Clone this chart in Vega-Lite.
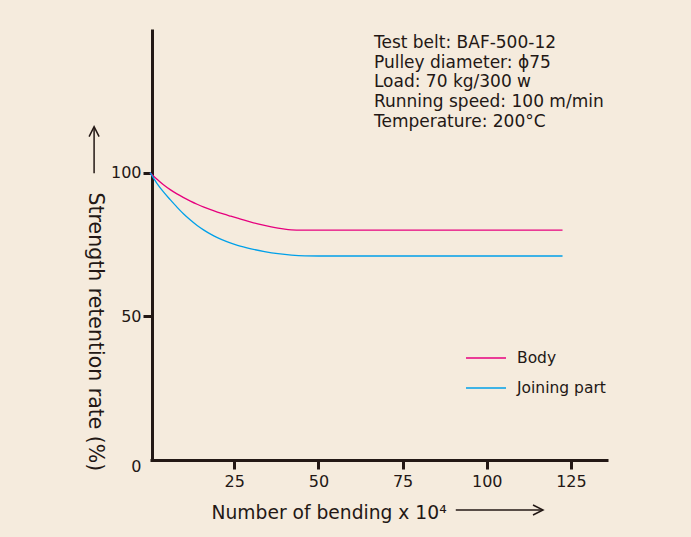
{
  "$schema": "https://vega.github.io/schema/vega-lite/v6.json",
  "width": 458,
  "height": 431,
  "autosize": "none",
  "padding": {"left": 150, "top": 29, "right": 83, "bottom": 77},
  "background": "#f5ebdd",
  "config": {
    "view": {"stroke": null},
    "font": "DejaVu Sans",
    "axis": {
      "domainColor": "#231815",
      "domainWidth": 3,
      "tickColor": "#231815",
      "tickWidth": 3,
      "tickSize": 9,
      "labelColor": "#231815",
      "labelFont": "DejaVu Sans",
      "labelFontSize": 16,
      "titleColor": "#231815",
      "titleFont": "DejaVu Sans",
      "titleFontWeight": "normal",
      "grid": false
    }
  },
  "datasets": {
    "curves": [
      {"n": 0, "rate": 100, "part": "Body"},
      {"n": 2, "rate": 97.8, "part": "Body"},
      {"n": 4, "rate": 95.8, "part": "Body"},
      {"n": 6, "rate": 94.1, "part": "Body"},
      {"n": 8, "rate": 92.6, "part": "Body"},
      {"n": 10, "rate": 91.3, "part": "Body"},
      {"n": 12, "rate": 90.1, "part": "Body"},
      {"n": 14, "rate": 89.0, "part": "Body"},
      {"n": 16, "rate": 88.0, "part": "Body"},
      {"n": 18, "rate": 87.1, "part": "Body"},
      {"n": 20, "rate": 86.3, "part": "Body"},
      {"n": 22, "rate": 85.55, "part": "Body"},
      {"n": 24, "rate": 84.85, "part": "Body"},
      {"n": 26, "rate": 84.15, "part": "Body"},
      {"n": 28, "rate": 83.45, "part": "Body"},
      {"n": 30, "rate": 82.8, "part": "Body"},
      {"n": 32, "rate": 82.2, "part": "Body"},
      {"n": 34, "rate": 81.65, "part": "Body"},
      {"n": 36, "rate": 81.15, "part": "Body"},
      {"n": 38, "rate": 80.7, "part": "Body"},
      {"n": 40, "rate": 80.35, "part": "Body"},
      {"n": 42, "rate": 80.12, "part": "Body"},
      {"n": 45, "rate": 80.0, "part": "Body"},
      {"n": 122.5, "rate": 80.0, "part": "Body"},
      {"n": 0, "rate": 100, "part": "Joining part"},
      {"n": 2, "rate": 96.4, "part": "Joining part"},
      {"n": 4, "rate": 93.3, "part": "Joining part"},
      {"n": 6, "rate": 90.6, "part": "Joining part"},
      {"n": 8, "rate": 88.0, "part": "Joining part"},
      {"n": 10, "rate": 85.6, "part": "Joining part"},
      {"n": 12, "rate": 83.5, "part": "Joining part"},
      {"n": 14, "rate": 81.6, "part": "Joining part"},
      {"n": 16, "rate": 80.0, "part": "Joining part"},
      {"n": 18, "rate": 78.6, "part": "Joining part"},
      {"n": 20, "rate": 77.4, "part": "Joining part"},
      {"n": 23, "rate": 75.9, "part": "Joining part"},
      {"n": 26, "rate": 74.7, "part": "Joining part"},
      {"n": 30, "rate": 73.5, "part": "Joining part"},
      {"n": 34, "rate": 72.55, "part": "Joining part"},
      {"n": 38, "rate": 71.8, "part": "Joining part"},
      {"n": 42, "rate": 71.3, "part": "Joining part"},
      {"n": 46, "rate": 71.05, "part": "Joining part"},
      {"n": 50, "rate": 71.0, "part": "Joining part"},
      {"n": 122.5, "rate": 71.0, "part": "Joining part"}
    ],
    "notes": [
      {"note": "Test belt: BAF-500-12\nPulley diameter: ϕ75\nLoad: 70 kg/300 w\nRunning speed: 100 m/min\nTemperature: 200°C"}
    ]
  },
  "layer": [
    {
      "data": {"name": "curves"},
      "mark": {"type": "line", "strokeWidth": 1.3, "interpolate": "monotone", "clip": false},
      "encoding": {
        "x": {
          "field": "n", "type": "quantitative",
          "scale": {"domain": [0, 136], "nice": false, "zero": false},
          "axis": {
            "values": [25, 50, 75, 100, 125],
            "labelPadding": 4,
            "title": "Number of bending x 10⁴",
            "titleFontSize": 18.7,
            "titleAlign": "left",
            "titleAnchor": "start",
            "titleBaseline": "alphabetic",
            "titleX": 61,
            "titleY": 58
          }
        },
        "y": {
          "field": "rate", "type": "quantitative",
          "scale": {"domain": [0, 150], "nice": false},
          "axis": {
            "values": [0, 50, 100],
            "offset": -2,
            "labelPadding": 2,
            "labelOffset": {"condition": {"test": "datum.value == 0", "value": 6.5}, "value": 0},
            "tickOpacity": {"condition": {"test": "datum.value == 0", "value": 0}, "value": 1},
            "title": "Strength retention rate (%)",
            "titleFontSize": 20.5,
            "titleAngle": 90,
            "titleAlign": "left",
            "titleAnchor": "start",
            "titleBaseline": "alphabetic",
            "titleX": -64,
            "titleY": 163
          }
        },
        "color": {
          "field": "part", "type": "nominal",
          "scale": {"domain": ["Body", "Joining part"], "range": ["#e6007e", "#00a0e9"]},
          "legend": {
            "title": null,
            "orient": "none",
            "legendX": 315,
            "legendY": 308,
            "padding": 0,
            "symbolType": "stroke",
            "symbolSize": 1600,
            "symbolStrokeWidth": 1.5,
            "labelFont": "DejaVu Sans",
            "labelFontSize": 15.5,
            "labelColor": "#231815",
            "labelOffset": 10,
            "rowPadding": 0
          }
        }
      }
    },
    {
      "data": {"name": "notes"},
      "mark": {"type": "text", "align": "left", "baseline": "alphabetic", "lineBreak": "\n", "lineHeight": 19.8, "fontSize": 17, "font": "DejaVu Sans", "color": "#231815"},
      "encoding": {
        "x": {"datum": 66.5, "type": "quantitative"},
        "y": {"datum": 143.45, "type": "quantitative"},
        "text": {"field": "note"}
      }
    },
    {
      "data": {"values": [{}]},
      "mark": {"type": "rule", "color": "#231815", "strokeWidth": 1.5},
      "encoding": {
        "x": {"datum": 90.8, "type": "quantitative"},
        "x2": {"datum": 116.6},
        "y": {"datum": -17.4, "type": "quantitative"}
      }
    },
    {
      "data": {"values": [{}]},
      "mark": {"type": "point", "shape": "M-2,-1L0,0L-2,1", "size": 100, "filled": false, "color": "#231815", "strokeWidth": 1.5, "opacity": 1},
      "encoding": {
        "x": {"datum": 116.7, "type": "quantitative"},
        "y": {"datum": -17.4, "type": "quantitative"}
      }
    },
    {
      "data": {"values": [{}]},
      "mark": {"type": "rule", "color": "#231815", "strokeWidth": 1.5},
      "encoding": {
        "x": {"datum": -16.6, "type": "quantitative"},
        "y": {"datum": 99.8, "type": "quantitative"},
        "y2": {"datum": 115.9}
      }
    },
    {
      "data": {"values": [{}]},
      "mark": {"type": "point", "shape": "M-1,2L0,0L1,2", "size": 100, "filled": false, "color": "#231815", "strokeWidth": 1.5, "opacity": 1},
      "encoding": {
        "x": {"datum": -16.6, "type": "quantitative"},
        "y": {"datum": 116.0, "type": "quantitative"}
      }
    }
  ]
}
